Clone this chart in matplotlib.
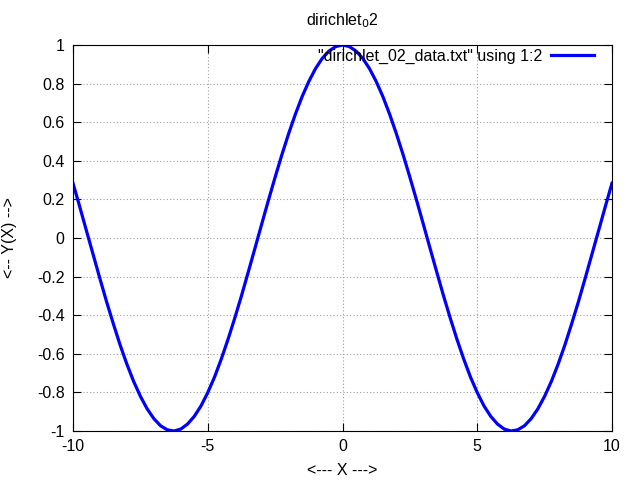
import matplotlib
matplotlib.use("Agg")
import matplotlib.pyplot as plt

plt.rcParams['font.family'] = ['Liberation Sans', 'DejaVu Sans']
plt.rcParams['font.size'] = 11.5
plt.rcParams['axes.unicode_minus'] = False

# data, x step 0.25
x = [i * 0.25 for i in range(-40, 41)]
y_half = [1.000, 0.992, 0.969, 0.931, 0.878, 0.811, 0.732, 0.641, 0.540, 0.431,
          0.315, 0.195, 0.071, -0.054, -0.178, -0.300, -0.416, -0.526, -0.628, -0.721,
          -0.801, -0.870, -0.924, -0.964, -0.990, -1.000, -0.994, -0.973, -0.936, -0.885,
          -0.820, -0.743, -0.654, -0.555, -0.446, -0.332, -0.211, -0.087, 0.037, 0.162,
          0.284]
y = y_half[::-1] + y_half[1:]

xticks = [-10, -5, 0, 5, 10]
yticks = [-1, -0.8, -0.6, -0.4, -0.2, 0, 0.2, 0.4, 0.6, 0.8, 1]
ytick_labels = ['-1', '-0.8', '-0.6', '-0.4', '-0.2', '0', '0.2', '0.4', '0.6', '0.8', '1']

fig = plt.figure(figsize=(6.4, 4.8), dpi=100)
ax = fig.add_axes([73/640, 1 - 431/480, (612 - 73)/640, (431 - 45)/480])

ax.plot(x, y, color='#0000ff', lw=2.3, label='"dirichlet_02_data.txt" using 1:2')

ax.set_xlim(-10, 10)
ax.set_ylim(-1, 1)
ax.set_xticks(xticks)
ax.set_yticks(yticks)
ax.set_yticklabels(ytick_labels)
ax.tick_params(direction='in', top=True, right=True, length=6, pad=6)
ax.grid(True, color='#a0a0a0', linestyle=(0, (1, 2)), lw=0.8)

ax.set_title('dirichlet$_0$2', fontsize=11.5, pad=14)
ax.set_xlabel('<--- X --->', labelpad=6)
ax.set_ylabel('<-- Y(X) -->', labelpad=14)

ax.legend(loc='upper right', bbox_to_anchor=(1.0, 1.035), frameon=False,
          markerfirst=False, handlelength=2.7, handletextpad=0.55, borderpad=0.2,
          borderaxespad=0.9)

fig.savefig('out.png', dpi=100)
